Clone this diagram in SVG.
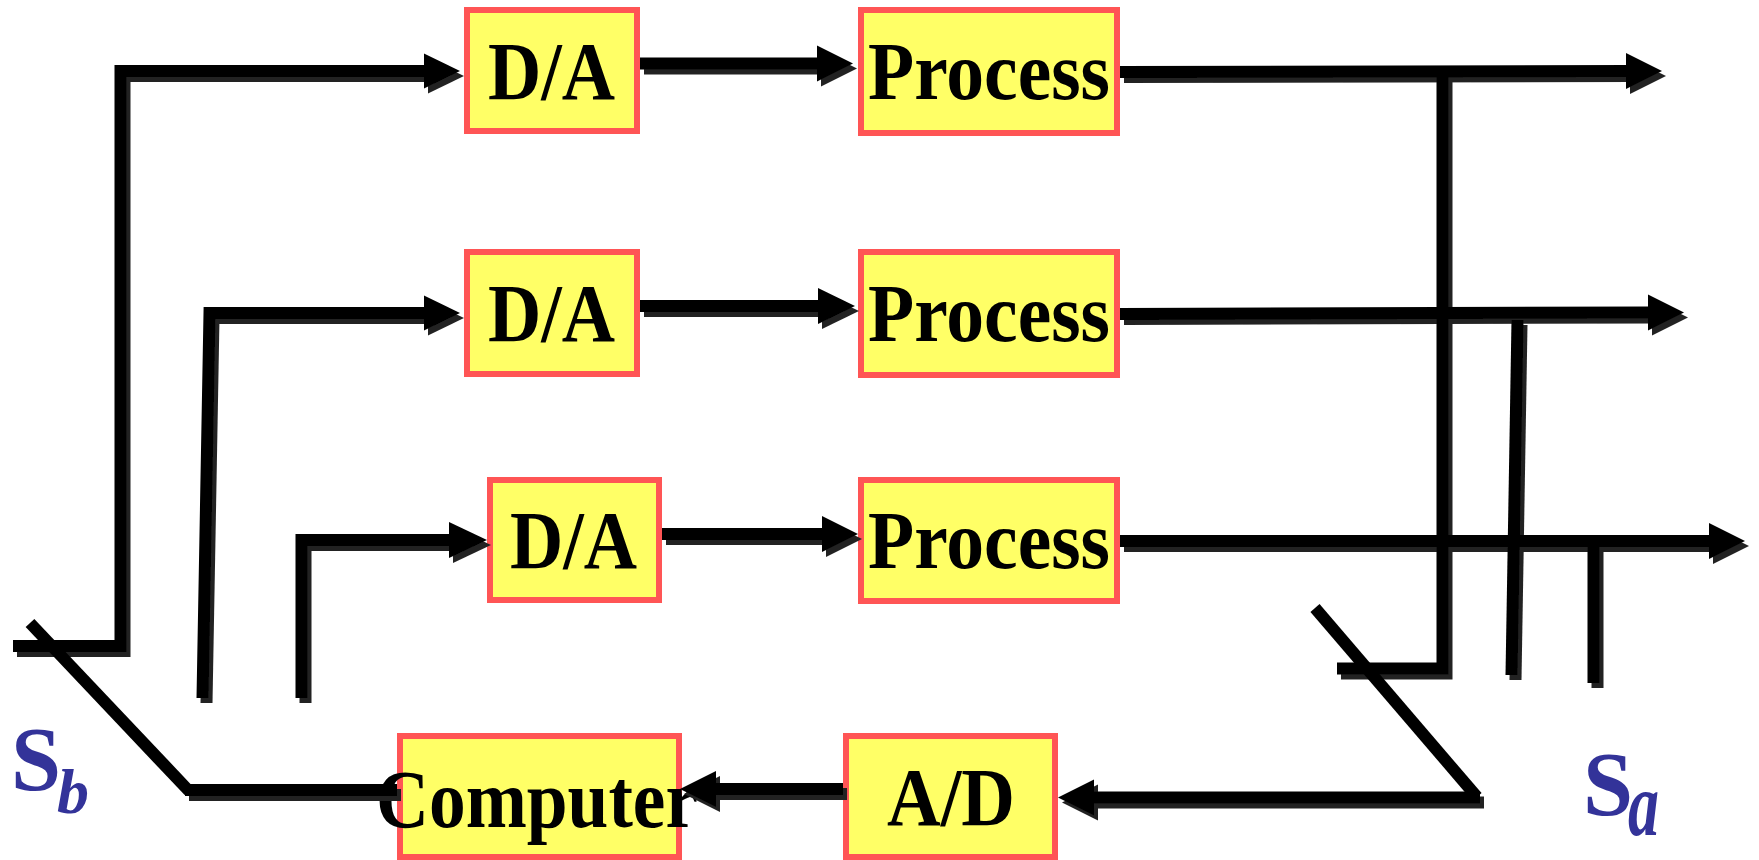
<svg xmlns="http://www.w3.org/2000/svg" width="1759" height="860" viewBox="0 0 1759 860">
  <style>
    .box { fill: #FFFF66; stroke: #FF5555; stroke-width: 6; }
    .lbl { font-family: "Liberation Serif", "Times New Roman", serif; font-weight: bold; font-size: 82px; fill: #000; }
    .wire { fill: none; stroke: #000; stroke-width: 12; stroke-linecap: butt; stroke-linejoin: miter; }
    .head { fill: #000; }
    .sw { font-family: "Liberation Serif", "Times New Roman", serif; font-weight: bold; fill: #333399; }
    .sub { font-style: italic; }
  </style>
  <defs>
    <!-- dark offset copy under each wire -->
    <filter id="shade" x="-5%" y="-5%" width="110%" height="110%">
      <feOffset in="SourceAlpha" dx="4" dy="5" result="off"/>
      <feFlood flood-color="#222222"/>
      <feComposite in2="off" operator="in" result="sh"/>
      <feMerge>
        <feMergeNode in="sh"/>
        <feMergeNode in="SourceGraphic"/>
      </feMerge>
    </filter>
  </defs>

  <!-- blocks -->
  <g id="da1">
    <rect class="box" x="467" y="10" width="170" height="121"/>
    <text class="lbl" x="488" y="99" textLength="127" lengthAdjust="spacingAndGlyphs">D/A</text>
  </g>
  <g id="da2">
    <rect class="box" x="467" y="252" width="170" height="122"/>
    <text class="lbl" x="488" y="341" textLength="127" lengthAdjust="spacingAndGlyphs">D/A</text>
  </g>
  <g id="da3">
    <rect class="box" x="490" y="480" width="169" height="120"/>
    <text class="lbl" x="510" y="568" textLength="127" lengthAdjust="spacingAndGlyphs">D/A</text>
  </g>
  <g id="process1">
    <rect class="box" x="861" y="10" width="256" height="123"/>
    <text class="lbl" x="868" y="99" textLength="242" lengthAdjust="spacingAndGlyphs">Process</text>
  </g>
  <g id="process2">
    <rect class="box" x="861" y="252" width="256" height="123"/>
    <text class="lbl" x="868" y="341" textLength="242" lengthAdjust="spacingAndGlyphs">Process</text>
  </g>
  <g id="process3">
    <rect class="box" x="861" y="480" width="256" height="121"/>
    <text class="lbl" x="868" y="568" textLength="242" lengthAdjust="spacingAndGlyphs">Process</text>
  </g>
  <g id="computer">
    <rect class="box" x="400" y="736" width="279" height="121"/>
    <text class="lbl" x="376" y="827" textLength="322" lengthAdjust="spacingAndGlyphs">Computer</text>
  </g>
  <g id="ad">
    <rect class="box" x="846" y="736" width="209" height="121"/>
    <text class="lbl" x="887" y="825" textLength="128" lengthAdjust="spacingAndGlyphs">A/D</text>
  </g>

  <!-- wiring -->
  <g id="connectors">
    <g filter="url(#shade)">
      <!-- switch Sb outputs -->
      <path class="wire" d="M13,646 H120.5 V71 H426"/>
      <polygon class="head" points="424,53.5 460,71 424,88.5"/>
      <path class="wire" d="M202.5,698 L209.5,313 H426"/>
      <polygon class="head" points="424,295.5 460,313 424,330.5"/>
      <path class="wire" d="M301.5,698 V540 H450"/>
      <polygon class="head" points="449,522 487,540 449,558"/>
      <!-- D/A to Process -->
      <path class="wire" d="M640,63.5 H819"/>
      <polygon class="head" points="817,45.5 853,63.5 817,81.5"/>
      <path class="wire" d="M640,306 H820"/>
      <polygon class="head" points="818,288 855,306 818,324"/>
      <path class="wire" d="M662,534 H824"/>
      <polygon class="head" points="822,516 858,534 822,552"/>
      <!-- Process outputs -->
      <path class="wire" d="M1120,72 L1628,71"/>
      <polygon class="head" points="1626,53 1662,71 1626,89"/>
      <path class="wire" d="M1120,314 L1650,312.5"/>
      <polygon class="head" points="1648,294.5 1684,312.5 1648,330.5"/>
      <path class="wire" d="M1120,541 H1711"/>
      <polygon class="head" points="1709,523 1745,541 1709,559"/>
      <!-- switch Sa inputs -->
      <path class="wire" d="M1442.5,77 V668.5 H1337"/>
      <path class="wire" d="M1517.5,320 L1511.5,675"/>
      <path class="wire" d="M1593.5,547 V683"/>
      <!-- Sa to A/D -->
      <path class="wire" d="M1480,797.5 H1092"/>
      <polygon class="head" points="1094,779.5 1058,797.5 1094,815.5"/>
      <!-- A/D to Computer -->
      <path class="wire" d="M843,789 H714"/>
      <polygon class="head" points="716,771 680,789 716,807"/>
      <!-- Computer to Sb -->
      <path class="wire" d="M185,790 H397"/>
    </g>
    <!-- switch arms -->
    <path class="wire" d="M30,623 L189,791"/>
    <path class="wire" d="M1315,608 L1477,797"/>
  </g>

  <!-- switch labels -->
  <g id="label-sb">
    <text class="sw" x="11" y="790" font-size="90">S<tspan class="sub" font-size="64" dx="-4" dy="23">b</tspan></text>
  </g>
  <g id="label-sa">
    <text class="sw" x="1583" y="815" font-size="90">S<tspan class="sub" font-size="90" dx="-5" dy="20" textLength="31" lengthAdjust="spacingAndGlyphs">a</tspan></text>
  </g>
</svg>
